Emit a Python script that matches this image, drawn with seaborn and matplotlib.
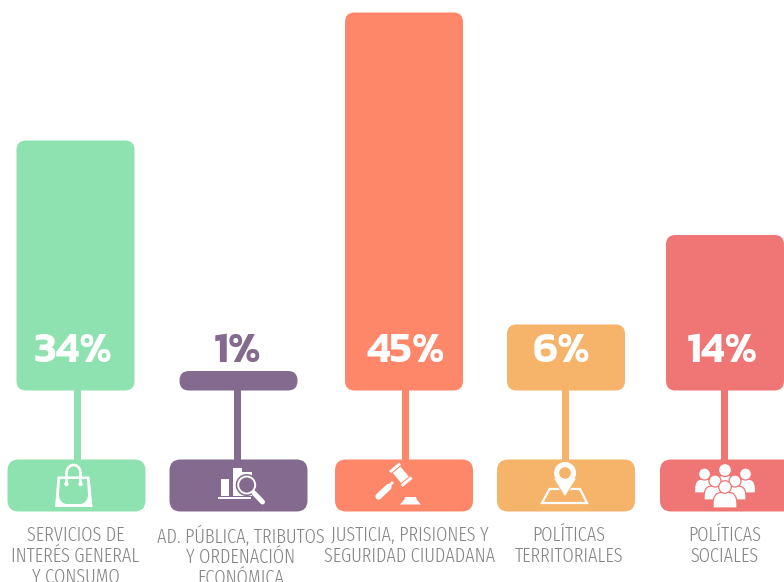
"""Budget share by policy area: lollipop-style rounded bars with icons."""

import numpy as np
import pandas as pd
import matplotlib
matplotlib.use('Agg')
import matplotlib.pyplot as plt
from matplotlib.patches import Circle, FancyBboxPatch, Polygon, Rectangle
import seaborn as sns

# data
categories = ['SERVICIOS DE\nINTERÉS GENERAL\nY CONSUMO',
              'AD. PÚBLICA, TRIBUTOS\nY ORDENACIÓN\nECONÓMICA',
              'JUSTICIA, PRISIONES Y\nSEGURIDAD CIUDADANA',
              'POLÍTICAS\nTERRITORIALES',
              'POLÍTICAS\nSOCIALES']
percent = [34, 1, 45, 6, 14]
bar_heights = [250, 19.5, 378, 66, 155.5]

# layout, in pixels of the 784x582 picture
colors = ['#8DE2B0', '#836A8E', '#FF8769', '#F6B36A', '#EF7674']
bar_centers = [75.5, 238.5, 404, 566, 725]
stem_centers = [77.5, 237.5, 406, 566, 725]
box_lefts = [7.5, 169.5, 335, 497, 660]
value_x = [73, 238, 406, 562, 722]
label_x = [75.5, 240.5, 410, 569, 725]
value_colors = ['white', '#836A8E', 'white', 'white', 'white']
BAR_W = 118
BASE_Y = 390.5
TEXT_GREY = '#858585'
LABEL_FONT = ['Fira Sans Extra Condensed', 'Barlow Condensed', 'Roboto', 'DejaVu Sans']
VALUE_FONT = ['Kanit', 'Open Sans', 'DejaVu Sans']

sns.set_theme(style='white')
plt.rcParams['font.family'] = ['Open Sans', 'DejaVu Sans']

df = pd.DataFrame({'cat': categories, 'x': bar_centers, 'h': bar_heights})

fig = plt.figure(figsize=(7.84, 5.82), dpi=100)
ax = fig.add_axes([0, 0, 1, 1])
spacing = min(np.diff(bar_centers))
sns.barplot(data=df, x='x', y='h', hue='cat', palette=colors, native_scale=True, saturation=1,
            dodge=False, width=BAR_W / spacing, legend=False, ax=ax)
ax.set_xlim(0, 784)
ax.set_ylim(BASE_Y - 582, BASE_Y)
ax.axis('off')

# swap the square bars for rounded ones of the same size
for bar in list(ax.patches):
    x, y, w, h = bar.get_x(), bar.get_y(), bar.get_width(), bar.get_height()
    if h <= 0:
        continue
    r = min(9.5, h / 2)
    ax.add_patch(FancyBboxPatch((x + r, y + r), w - 2 * r, h - 2 * r,
                                boxstyle=f'round,pad={r},rounding_size={r}',
                                fc=bar.get_facecolor(), ec='none', zorder=3))
    bar.set_visible(False)

# overlay with picture pixels for stems, boxes, icons
ov = fig.add_axes([0, 0, 1, 1], facecolor='none')
ov.set_xlim(0, 784)
ov.set_ylim(582, 0)
ov.axis('off')

for i, c in enumerate(colors):
    ov.add_patch(Rectangle((stem_centers[i] - 3.5, BASE_Y - 1), 7, 72, fc=c, ec='none'))
    ov.add_patch(FancyBboxPatch((box_lefts[i] + 11, 470.5), 116, 30,
                                boxstyle='round,pad=11,rounding_size=11', fc=c, ec='none'))
    ov.text(value_x[i], 347.5, f'{percent[i]}%', color=value_colors[i], fontsize=31,
            fontweight=600, ha='center', va='center_baseline', family=VALUE_FONT)
    ov.text(label_x[i], 525.5, categories[i], color=TEXT_GREY, fontsize=14.3, ha='center',
            va='top', linespacing=1.085, fontweight=300, family=LABEL_FONT)


def bag(col):
    ov.add_patch(Polygon([(57.5, 476.5), (89.5, 476.5), (92.5, 507), (55, 507)], fc='white', ec='none'))
    t = np.linspace(0, np.pi, 20)
    inner = [(60, 479), (87, 479), (88, 495)]
    inner += list(zip(80 + 8 * np.cos(t[:10]), 495 + 9 * np.sin(t[:10])))
    inner += list(zip(67 + 8 * np.cos(t[10:]), 495 + 9 * np.sin(t[10:])))
    ov.add_patch(Polygon(inner, fc=col, ec='none'))
    ov.plot(66.5 + 7 * (1 + np.cos(t)), 473 - 8 * np.sin(t), color='white', lw=1.9)
    ov.plot([66.5, 66.5], [473, 484], color='white', lw=1.9)
    ov.plot([80.5, 80.5], [473, 484], color='white', lw=1.9)
    ov.add_patch(Circle((66.5, 484), 2.2, fc='white', ec='none'))
    ov.add_patch(Circle((80.5, 484), 2.2, fc='white', ec='none'))


def chart_glass(col):
    for x0, x1, top in [(221, 229, 479), (233, 242, 468), (242, 252, 472)]:
        ov.add_patch(Rectangle((x0, top), x1 - x0, 496 - top, fc='white', ec='none'))
    ov.add_patch(Rectangle((218, 497), 33, 2, fc='white', ec='none'))
    ov.plot([254, 262.5], [493, 502], color='white', lw=3.6, solid_capstyle='round')
    ov.add_patch(Circle((246.7, 485), 11, fc=col, ec='none'))
    ov.add_patch(Circle((246.7, 485), 8.5, fc=col, ec='white', lw=1.4))


def gavel(col):
    c = np.array([400.8, 474.8])
    along = np.array([0.64, 0.77])
    across = np.array([-0.77, 0.64])

    def block(offset, half_len, half_wid):
        mid = c + along * offset
        return [mid + along * s * half_len + across * u * half_wid
                for s, u in [(-1, -1), (1, -1), (1, 1), (-1, 1)]]

    ov.plot([393, 387], [482, 488], color='white', lw=2, solid_capstyle='butt')
    ov.plot([378.5, 388.5], [496.5, 487], color='white', lw=4.5, solid_capstyle='round')
    ov.add_patch(Polygon(block(0, 6.5, 5), fc='white', ec='none'))
    ov.add_patch(Polygon(block(-9, 1.5, 6.5), fc='white', ec='none'))
    ov.add_patch(Polygon(block(9, 1.5, 6.5), fc='white', ec='none'))
    ov.add_patch(Polygon([(405, 497), (416, 497), (417, 500), (421, 504.5), (400, 504.5), (404, 500)],
                         fc='white', ec='none'))


def pin(col):
    ov.add_patch(Polygon([(549.5, 489), (580, 489), (587, 503), (542, 503)], fc='none', ec='white', lw=1.6))
    ov.add_patch(Polygon([(553, 478), (577, 478), (565, 497)], fc='white', ec=col, lw=0.8))
    ov.add_patch(Circle((565, 473), 11, fc='white', ec='none'))
    ov.add_patch(Circle((565, 473), 5.8, fc=col, ec='none'))


def person(cx, hy, r, w, bot, col):
    t = np.linspace(0, np.pi, 30)
    by = hy + r - 1
    # squared-off shoulders, flat underneath
    sx = np.sign(np.cos(t)) * np.abs(np.cos(t)) ** 0.6
    sy = np.sin(t) ** 0.6
    ov.add_patch(Polygon(list(zip(cx + w * sx, bot - (bot - by) * sy)), fc='white', ec=col, lw=0.9))
    ov.add_patch(Circle((cx, hy), r, fc='white', ec=col, lw=0.9))


def people(col):
    person(725, 470, 6.5, 11, 493, col)
    person(704.5, 474, 6, 10, 493, col)
    person(745.5, 474, 6, 10, 493, col)
    person(715, 481, 6, 11, 500, col)
    person(735, 481, 6, 11, 500, col)
    person(725, 487, 6.3, 12, 508, col)


for draw, col in zip([bag, chart_glass, gavel, pin, people], colors):
    draw(col)

fig.savefig('out.png', dpi=100, facecolor='white')
plt.close(fig)
